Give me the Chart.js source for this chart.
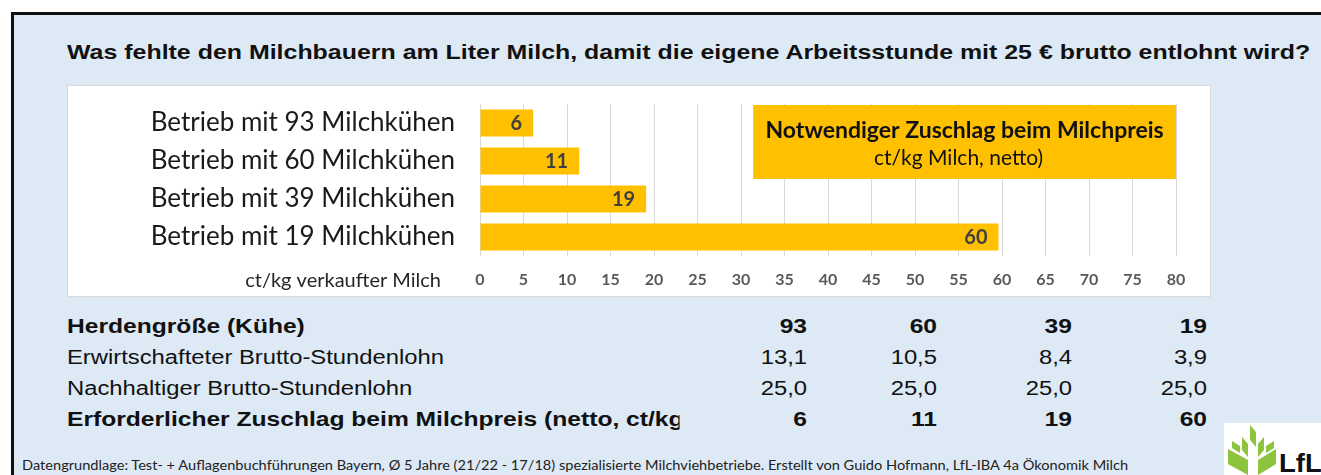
<!DOCTYPE html>
<html>
<head>
<meta charset="utf-8">
<script src="https://cdn.jsdelivr.net/npm/chart.js@4.4.1/dist/chart.umd.min.js"></script>
<style>
  body { margin: 0; width: 1321px; height: 475px; overflow: hidden; position: relative; background: #fff; font-family: "Liberation Sans", Arial, sans-serif; }
  #frame { position: absolute; left: 11px; top: 12px; width: 1400px; height: 500px; border: 3px solid #111; background: #dde9f5; }
  #title { position: absolute; left: 67px; top: 40px; font-weight: bold; font-size: 21px; color: #111; white-space: nowrap; transform: scaleX(1.187); transform-origin: 0 0; }
  #panel { position: absolute; left: 67px; top: 85px; width: 1144px; height: 212px; box-sizing: border-box; border: 1px solid #d9d9d9; background: #fff; }
  #panel canvas { display: block; }
  .row { position: absolute; left: 67px; width: 1200px; height: 24px; line-height: 24px; font-size: 20px; color: #111; white-space: nowrap; transform-origin: 0 0; }
  .row.b { font-weight: bold; }
  .val { position: absolute; text-align: right; width: 80px; }
  #foot { position: absolute; left: 22px; top: 457px; font-family: Lato, sans-serif; font-size: 13px; color: #222; white-space: nowrap; transform: scaleX(1.123); transform-origin: 0 0; }
  #logo { position: absolute; left: 1224px; top: 423px; }
</style>
</head>
<body>
<div id="frame"></div>
<div id="title">Was fehlte den Milchbauern am Liter Milch, damit die eigene Arbeitsstunde mit 25 € brutto entlohnt wird?</div>
<div id="panel"><canvas id="zuschlagChart" width="1142" height="210"></canvas></div>
<div id="table"></div>
<div id="foot">Datengrundlage: Test- + Auflagenbuchführungen Bayern, Ø 5 Jahre (21/22 - 17/18) spezialisierte Milchviehbetriebe. Erstellt von Guido Hofmann, LfL-IBA 4a Ökonomik Milch</div>
<svg id="logo" width="97" height="52" viewBox="0 0 97 52">
  <rect width="97" height="52" fill="#fff"/>
  <polygon points="26,2 32,9 32,24 26,17" fill="#8cc43e"/>
  <polygon points="18,14 24,21 24,34 18,27" fill="#8cc43e"/>
  <polygon points="34,21 40,14 40,27 34,34" fill="#8cc43e"/>
  <polygon points="4,26 24,37 24,52 4,41" fill="#8cc43e"/>
  <polygon points="34,37 52,26 52,41 34,52" fill="#8cc43e"/>
  <polygon points="8,18 16,23 16,30 8,25" fill="#8cc43e"/>
  <polygon points="42,23 50,18 50,25 42,30" fill="#8cc43e"/>
  <text x="55" y="49" font-family="Liberation Sans, Arial" font-weight="bold" font-size="25" fill="#111" transform="scale(1.1,1) translate(-5,0)">LfL</text>
</svg>

<script>
// Notwendiger Zuschlag beim Milchpreis (ct/kg Milch, netto)
const betriebe = ['Betrieb mit 93 Milchkühen', 'Betrieb mit 60 Milchkühen', 'Betrieb mit 39 Milchkühen', 'Betrieb mit 19 Milchkühen'];
const zuschlag = [6.1, 11.4, 19.1, 59.6];

// Tabelle unter dem Diagramm
const herdengroesse = [93, 60, 39, 19];
const lohnErwirtschaftet = [13.1, 10.5, 8.4, 3.9];
const lohnNachhaltig = [25.0, 25.0, 25.0, 25.0];
const zuschlagGerundet = [6, 11, 19, 60];

const tabelle = [
  { label: 'Herdengröße (Kühe)', werte: herdengroesse.map(String), bold: true },
  { label: 'Erwirtschafteter Brutto-Stundenlohn', werte: lohnErwirtschaftet.map(v => v.toFixed(1).replace('.', ',')) },
  { label: 'Nachhaltiger Brutto-Stundenlohn', werte: lohnNachhaltig.map(v => v.toFixed(1).replace('.', ',')) },
  { label: 'Erforderlicher Zuschlag beim Milchpreis (netto, ct/kg', werte: zuschlagGerundet.map(String), bold: true }
];

const rowTops = [314, 345, 376, 407];
const colRights = [807, 937, 1072, 1207];
const tableEl = document.getElementById('table');
tabelle.forEach((r, i) => {
  const sx = r.bold ? 1.23 : 1.19;
  const row = document.createElement('div');
  row.className = 'row' + (r.bold ? ' b' : '');
  row.style.top = rowTops[i] + 'px';
  row.style.transform = 'scaleX(' + sx + ')';
  // label is cut off at the first value column, like in the original
  row.innerHTML = '<div style="width:' + Math.round((679 - 67) / sx) + 'px;overflow:hidden">' + r.label + '</div>';
  r.werte.forEach((w, j) => {
    const v = document.createElement('div');
    v.className = 'val';
    v.style.left = ((colRights[j] - 67) / sx - 80) + 'px';
    v.style.top = '0px';
    v.textContent = w;
    row.appendChild(v);
  });
  tableEl.appendChild(row);
});

const labelPlugin = {
  id: 'labels',
  afterDatasetsDraw(chart) {
    const { ctx, chartArea, scales } = chart;
    ctx.save();
    // data labels inside bar end
    ctx.font = 'bold 20px Lato';
    ctx.fillStyle = '#404040';
    ctx.textAlign = 'right';
    ctx.textBaseline = 'middle';
    chart.getDatasetMeta(0).data.forEach((bar, i) => {
      ctx.fillText(String(zuschlagGerundet[i]), bar.x - 11, bar.y + 1);
    });

    // axis caption left of the tick labels
    ctx.font = '20px Lato';
    ctx.fillStyle = '#262626';
    ctx.fillText('ct/kg verkaufter Milch', chartArea.left - 39, chartArea.bottom + 25);

    // yellow note box
    const x0 = scales.x.getPixelForValue(31.4);
    const x1 = scales.x.getPixelForValue(80);
    const y0 = chartArea.top + 1;
    ctx.fillStyle = '#ffc000';
    ctx.fillRect(x0, y0, x1 - x0, 74);
    ctx.fillStyle = '#111';
    ctx.textAlign = 'center';
    ctx.font = 'bold 23px Lato';
    ctx.fillText('Notwendiger Zuschlag beim Milchpreis', (x0 + x1) / 2, y0 + 26);
    ctx.font = '21px Lato';
    ctx.fillText('ct/kg Milch, netto)', (x0 + x1) / 2 - 6, y0 + 53);
    ctx.restore();
  }
};

new Chart(document.getElementById('zuschlagChart'), {
  type: 'bar',
  data: {
    labels: betriebe,
    datasets: [{
      data: zuschlag,
      backgroundColor: '#ffc000',
      categoryPercentage: 1,
      barPercentage: 0.71
    }]
  },
  options: {
    indexAxis: 'y',
    responsive: false,
    animation: false,
    layout: { padding: { top: 18, right: 34, left: 0, bottom: 0 } },
    plugins: { legend: { display: false }, tooltip: { enabled: false } },
    scales: {
      x: {
        min: 0, max: 80,
        ticks: { stepSize: 5, color: '#595959', font: { family: 'Lato', size: 16, weight: 'bold' }, padding: 14 },
        grid: { color: '#d9d9d9', drawTicks: false },
        border: { display: false },
        afterFit: s => { s.height = 40; }
      },
      y: {
        ticks: { color: '#1a1a1a', font: { family: 'Lato', size: 26 }, padding: 17, autoSkip: false },
        grid: { display: false },
        border: { display: false },
        afterFit: s => { s.width = 412; s.paddingTop = 0; s.paddingBottom = 0; }
      }
    }
  },
  plugins: [labelPlugin]
});
</script>
</body>
</html>
